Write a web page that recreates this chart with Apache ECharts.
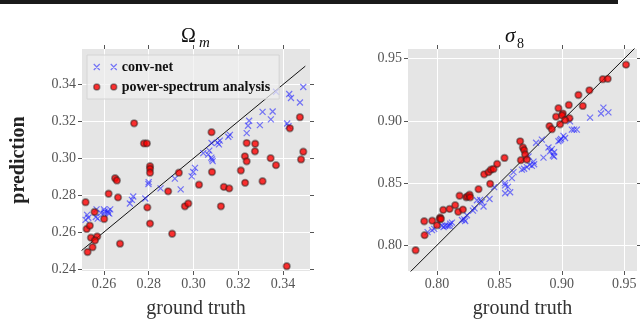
<!DOCTYPE html>
<html><head><meta charset="utf-8">
<script src="https://cdn.jsdelivr.net/npm/echarts@6/dist/echarts.min.js"></script>
<style>html,body{margin:0;padding:0;background:#fff}#c{width:640px;height:324px}</style>
</head><body><div id="c"></div><script>
// ---- tick labels ----
const omegaTicksX = [0.26, 0.28, 0.30, 0.32, 0.34];
const omegaTicksY = [0.24, 0.26, 0.28, 0.30, 0.32, 0.34];
const sigmaTicksX = [0.80, 0.85, 0.90, 0.95];
const sigmaTicksY = [0.80, 0.85, 0.90, 0.95];
const seriesNames = ['conv-net', 'power-spectrum analysis'];

// ---- Omega_m: [ground truth, prediction] ----
const omegaConvNet = [
 [0.2800,0.2871],[0.2799,0.2861],[0.2917,0.2890],[0.2943,0.2832],[0.2853,0.2837],[0.2785,0.2782],
 [0.2731,0.2793],[0.2725,0.2775],[0.2716,0.2755],[0.2525,0.2693],[0.2518,0.2666],[0.2530,0.2678],
 [0.2564,0.2682],[0.2572,0.2673],[0.2567,0.2723],[0.2600,0.2723],[0.2603,0.2711],[0.2600,0.2700],
 [0.2619,0.2705],[0.2628,0.2723],[0.2624,0.2700],[0.2618,0.2714],[0.2587,0.2704],
 [0.3491,0.3387],[0.3369,0.3361],[0.3428,0.3349],[0.3436,0.3327],[0.3476,0.3303],[0.3309,0.3252],
 [0.3354,0.3254],[0.3346,0.3211],[0.3297,0.3180],[0.3249,0.3204],[0.3244,0.3177],[0.3238,0.3137],
 [0.3419,0.3189],[0.3425,0.3175],[0.3163,0.3127],[0.3156,0.3117],[0.3118,0.3096],[0.3114,0.3076],
 [0.3108,0.3085],[0.3081,0.3083],[0.3044,0.3028],[0.3071,0.3042],[0.3066,0.3020],[0.3080,0.3004],
 [0.3086,0.2985],[0.3083,0.2994],[0.3007,0.2948],[0.2999,0.2926],[0.2992,0.2902]
];
const omegaPowerSpectrum = [
 [0.2735,0.3190],[0.2779,0.3081],[0.2792,0.3081],[0.2806,0.2957],[0.2806,0.2943],[0.2806,0.2922],
 [0.2650,0.2892],[0.2658,0.2880],[0.2935,0.2922],[0.2621,0.2808],[0.2663,0.2788],[0.2518,0.2762],
 [0.2558,0.2709],[0.2601,0.2671],[0.2794,0.2734],[0.2806,0.2646],[0.2523,0.2617],[0.2537,0.2635],
 [0.2542,0.2570],[0.2570,0.2576],[0.2560,0.2555],[0.2549,0.2518],[0.2527,0.2492],[0.2672,0.2537],
 [0.2905,0.2591],[0.2887,0.2821],[0.3431,0.3163],[0.3476,0.3223],[0.3081,0.3142],[0.3238,0.3083],
 [0.3276,0.3079],[0.3275,0.3038],[0.3230,0.3011],[0.3238,0.2984],[0.3345,0.3001],[0.3369,0.2963],
 [0.3491,0.3036],[0.3481,0.2994],[0.3212,0.2934],[0.3083,0.2926],[0.3231,0.2867],[0.3309,0.2876],
 [0.3025,0.2857],[0.3136,0.2845],[0.3160,0.2837],[0.2962,0.2740],[0.2977,0.2755],[0.3123,0.2740],
 [0.3417,0.2415]
];
const omegaDiagonal = [[0.25,0.25],[0.35,0.35]];

// ---- sigma_8: [ground truth, prediction] ----
const sigmaConvNet = [
 [0.7925,0.8106],[0.7960,0.8122],[0.7978,0.8132],[0.8040,0.8157],[0.8066,0.8157],[0.8053,0.8147],
 [0.8085,0.8157],[0.8106,0.8173],[0.8120,0.8182],[0.8101,0.8157],[0.8200,0.8203],[0.8218,0.8208],
 [0.8226,0.8195],[0.8240,0.8241],[0.8288,0.8279],[0.8301,0.8296],[0.8320,0.8362],[0.8346,0.8365],
 [0.8360,0.8347],[0.8373,0.8312],[0.8421,0.8372],[0.8458,0.8467],[0.8544,0.8499],[0.8546,0.8482],
 [0.8568,0.8469],[0.8546,0.8418],[0.8586,0.8426],[0.8600,0.8540],[0.8613,0.8588],[0.8680,0.8608],
 [0.8698,0.8615],[0.8720,0.8628],[0.8760,0.8638],[0.8741,0.8646],[0.8778,0.8651],[0.8773,0.8672],
 [0.8733,0.8714],[0.8853,0.8705],[0.8938,0.8714],[0.8928,0.8722],[0.8938,0.8748],[0.8906,0.8756],
 [0.8920,0.8773],[0.8893,0.8786],[0.8794,0.8824],[0.8840,0.8849],[0.8973,0.8836],[0.8986,0.8844],
 [0.8994,0.8854],[0.9026,0.8862],[0.9013,0.8879],[0.9080,0.8930],[0.9098,0.8930],[0.9120,0.8930],
 [0.9066,0.8996],[0.9226,0.9026],[0.9314,0.9059],[0.9373,0.9069],[0.9333,0.9107]
];
const sigmaPowerSpectrum = [
 [0.7829,0.7960],[0.7901,0.8081],[0.7898,0.8193],[0.7962,0.8198],[0.8000,0.8160],[0.8026,0.8223],
 [0.8021,0.8211],[0.8032,0.8211],[0.8050,0.8284],[0.8101,0.8292],[0.8146,0.8322],[0.8170,0.8269],
 [0.8208,0.8287],[0.8181,0.8398],[0.8234,0.8385],[0.8245,0.8393],[0.8261,0.8406],[0.8266,0.8385],
 [0.8333,0.8451],[0.8426,0.8494],[0.8378,0.8570],[0.8413,0.8588],[0.8432,0.8608],[0.8453,0.8613],
 [0.8482,0.8654],[0.8541,0.8702],[0.8666,0.8836],[0.8688,0.8786],[0.8698,0.8765],[0.8706,0.8730],
 [0.8672,0.8684],[0.8720,0.8689],[0.8901,0.8958],[0.8920,0.8933],[0.8986,0.8973],[0.8954,0.9034],
 [0.9008,0.9059],[0.9002,0.9044],[0.9061,0.9021],[0.9026,0.9006],[0.8973,0.9102],[0.9056,0.9128],
 [0.9168,0.9120],[0.9133,0.9208],[0.9221,0.9246],[0.9328,0.9335],[0.9368,0.9338],[0.9514,0.9452]
];
const sigmaDiagonal = [[0.77,0.77],[0.96,0.96]];

// ---- axis ranges ----
const omegaRangeX = [0.2502, 0.3521];
const omegaRangeY = [0.2389, 0.3593];
const sigmaRangeX = [0.7768, 0.9602];
const sigmaRangeY = [0.7793, 0.9578];

const SERIF = '"Liberation Serif", "DejaVu Serif", serif';
const TICK = '#555';

function axis(kind, gridIndex, position, range, ticks, primary, name) {
  const a = {
    type: 'value', gridIndex, position, min: range[0], max: range[1],
    axisLine: {show: false},
    axisTick: {show: true, inside: false, length: 4, customValues: ticks, lineStyle: {color: TICK, width: 1}},
    axisLabel: {show: primary, customValues: ticks, formatter: v => v.toFixed(2),
      color: TICK, fontFamily: SERIF, fontSize: 14, margin: 6},
    splitLine: {show: primary, lineStyle: {color: '#ffffff', width: 1}}
  };
  if (name) {
    a.name = name; a.nameLocation = 'middle';
    a.nameTextStyle = {fontFamily: SERIF, fontSize: 20, color: '#333'};
    if (kind === 'x') { a.nameGap = 28; }
    else { a.nameGap = 53; a.nameTextStyle.fontWeight = 'bold'; a.nameTextStyle.color = '#222'; }
  }
  return a;
}

const crossPath = 'path://M0,0L10,10M10,0L0,10';
const blue = 'rgba(30,30,255,0.72)';
const crossStyle = {color: blue, borderColor: blue, borderWidth: 1.2};
const dotStyle = {color: '#ff0000', borderColor: 'rgba(30,30,30,0.55)', borderWidth: 1.8};

function scatterCross(data, xi, yi) {
  return {type: 'scatter', name: seriesNames[0], data, xAxisIndex: xi, yAxisIndex: yi,
    symbol: crossPath, symbolSize: 6, itemStyle: crossStyle, z: 3, silent: true};
}
function scatterDot(data, xi, yi) {
  return {type: 'scatter', name: seriesNames[1], data, xAxisIndex: xi, yAxisIndex: yi,
    symbol: 'circle', symbolSize: 6.5, itemStyle: dotStyle, z: 4, silent: true};
}
function diag(data, xi, yi) {
  return {type: 'line', data, xAxisIndex: xi, yAxisIndex: yi, symbol: 'none', clip: true,
    lineStyle: {color: '#111', width: 1}, z: 2, silent: true};
}

const chart = echarts.init(document.getElementById('c'), null, {renderer: 'canvas'});
chart.setOption({
  animation: false,
  backgroundColor: '#ffffff',
  grid: [
    {left: 82, top: 49, width: 228, height: 235, show: true, backgroundColor: '#e5e5e5', borderWidth: 0},
    {left: 408, top: 49, width: 229, height: 235, show: true, backgroundColor: '#e5e5e5', borderWidth: 0}
  ],
  xAxis: [
    axis('x', 0, 'bottom', omegaRangeX, omegaTicksX, true, 'ground truth'),
    axis('x', 0, 'top', omegaRangeX, omegaTicksX, false),
    axis('x', 1, 'bottom', sigmaRangeX, sigmaTicksX, true, 'ground truth'),
    axis('x', 1, 'top', sigmaRangeX, sigmaTicksX, false)
  ],
  yAxis: [
    axis('y', 0, 'left', omegaRangeY, omegaTicksY, true, 'prediction'),
    axis('y', 0, 'right', omegaRangeY, omegaTicksY, false),
    axis('y', 1, 'left', sigmaRangeY, sigmaTicksY, true),
    axis('y', 1, 'right', sigmaRangeY, sigmaTicksY, false)
  ],
  legend: {
    orient: 'vertical', left: 87, top: 55, padding: [5, 9, 5, 6], itemGap: 6,
    itemWidth: 23, itemHeight: 6,
    backgroundColor: 'rgba(240,240,240,0.7)', borderColor: '#d4d4d4', borderWidth: 1,
    textStyle: {fontFamily: SERIF, fontWeight: 'bold', fontSize: 14, color: '#111'},
    data: [
      {name: seriesNames[0], icon: 'path://M0,0L6,6M6,0L0,6M17,0L23,6M23,0L17,6', itemStyle: crossStyle},
      {name: seriesNames[1], icon: 'path://M0,3A3,3 0 1,0 6,3A3,3 0 1,0 0,3ZM17,3A3,3 0 1,0 23,3A3,3 0 1,0 17,3Z',
        itemStyle: {color: '#ff0000', borderColor: 'rgba(30,30,30,0.55)', borderWidth: 1.5}}
    ],
    selectedMode: false
  },
  graphic: [
    {type: 'rect', shape: {x: 0, y: 0, width: 618, height: 4}, style: {fill: '#1a1a1a'}},
    {type: 'text', x: 181, y: 47, style: {text: 'Ω', font: '20px ' + SERIF, fill: '#111', textVerticalAlign: 'bottom'}},
    {type: 'text', x: 199, y: 51, style: {text: 'm', font: 'italic 15px ' + SERIF, fill: '#111', textVerticalAlign: 'bottom'}},
    {type: 'text', x: 505, y: 47, style: {text: 'σ', font: 'italic 21px ' + SERIF, fill: '#111', textVerticalAlign: 'bottom'}},
    {type: 'text', x: 517, y: 51, style: {text: '8', font: '14px ' + SERIF, fill: '#111', textVerticalAlign: 'bottom'}}
  ],
  series: [
    diag(omegaDiagonal, 0, 0),
    scatterCross(omegaConvNet, 0, 0),
    scatterDot(omegaPowerSpectrum, 0, 0),
    diag(sigmaDiagonal, 2, 2),
    scatterCross(sigmaConvNet, 2, 2),
    scatterDot(sigmaPowerSpectrum, 2, 2)
  ]
});
</script></body></html>
